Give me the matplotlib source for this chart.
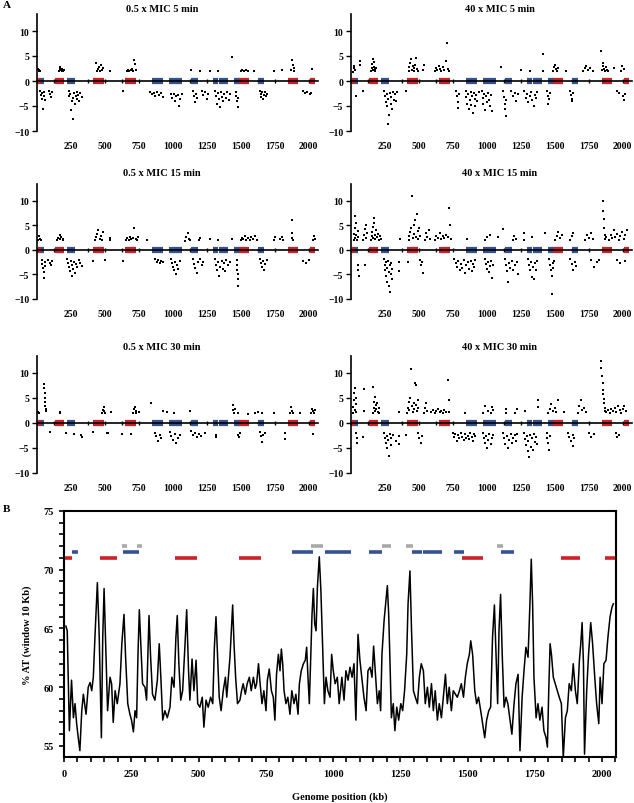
import numpy as np
import matplotlib
matplotlib.use('Agg')
import matplotlib.pyplot as plt
from matplotlib.ticker import MultipleLocator

plt.rcParams['font.family'] = ['Liberation Serif', 'DejaVu Serif']
plt.rcParams['font.weight'] = 'bold'

# --- panel A : fold change per gene along the genome (kb, log2 ratio) ---
titles = ['0.5 x MIC 5 min', '40 x MIC 5 min',
          '0.5 x MIC 15 min', '40 x MIC 15 min',
          '0.5 x MIC 30 min', '40 x MIC 30 min']

pts_05_5 = [
    (10, 2.5), (14, 2.1), (18, 2.3), (22, 2.0),
    (160, 2.0), (166, 2.4), (172, 2.8), (176, 2.2), (182, 2.0), (186, 2.5), (192, 2.1), (196, 2.3),
    (432, 3.6), (440, 2.0), (448, 2.4), (455, 2.9), (462, 2.1), (470, 3.2), (478, 2.2), (486, 2.6), (540, 2.0),
    (660, 2.1), (670, 2.3), (680, 2.0), (690, 2.2), (700, 2.4), (708, 2.0), (716, 4.2), (722, 3.4), (732, 2.2),
    (1130, 2.2), (1200, 2.0), (1273, 2.0), (1334, 2.1), (1437, 4.8),
    (1500, 2.0), (1512, 2.2), (1524, 2.0), (1538, 2.3), (1552, 2.0), (1596, 2.1),
    (1745, 2.0), (1800, 2.2), (1870, 2.2), (1876, 4.2), (1882, 3.2), (1888, 2.6), (1895, 2.1), (2027, 2.4),
    (25, -2.0), (30, -2.8), (35, -3.5), (40, -2.4), (45, -5.5), (50, -3.0), (55, -2.2), (60, -3.8),
    (85, -2.0), (92, -2.6), (100, -3.1), (108, -2.2),
    (232, -2.0), (238, -3.0), (244, -2.6), (250, -5.8), (256, -4.0), (262, -3.4), (268, -7.5), (274, -2.4),
    (280, -4.5), (286, -3.0), (292, -2.2), (298, -3.6), (304, -2.8), (312, -4.0), (320, -2.4), (330, -3.2),
    (636, -2.0),
    (835, -2.1), (848, -2.6), (860, -2.4), (872, -3.0), (884, -2.2), (896, -2.7), (910, -2.4), (928, -3.1),
    (985, -2.6), (995, -3.4), (1005, -2.5), (1015, -4.0), (1025, -3.0), (1035, -2.7), (1045, -5.0), (1055, -3.6), (1064, -2.5),
    (1150, -1.9), (1155, -3.0), (1160, -4.2), (1168, -2.5), (1175, -3.4),
    (1212, -1.9), (1225, -2.8), (1238, -2.2), (1250, -3.5), (1260, -2.6),
    (1310, -1.9), (1316, -3.0), (1322, -4.5), (1330, -2.4), (1338, -3.6), (1346, -5.1), (1354, -2.2), (1362, -3.2),
    (1370, -4.0), (1378, -2.6), (1388, -3.4), (1398, -2.1), (1410, -3.8), (1420, -2.5),
    (1464, -2.2), (1468, -3.0), (1472, -4.0), (1476, -5.2), (1481, -3.4),
    (1640, -1.9), (1646, -2.6), (1652, -3.2), (1658, -2.2), (1664, -3.5), (1670, -2.8), (1676, -2.1), (1682, -3.0), (1690, -2.5),
    (1960, -2.0), (1975, -2.4), (1990, -2.2), (2008, -2.6), (2020, -2.3),
]

pts_40_5 = [
    (16, 1.8), (20, 2.6), (24, 3.0), (28, 2.2), (64, 3.3), (66, 4.0),
    (148, 2.0), (152, 2.6), (156, 3.4), (160, 4.5), (164, 2.2), (168, 2.9), (172, 3.8), (176, 2.4), (180, 2.0), (184, 2.7),
    (424, 2.0), (430, 2.8), (436, 3.6), (442, 4.5), (448, 2.3), (454, 3.0), (460, 2.1), (466, 2.6), (472, 3.3),
    (478, 4.7), (486, 2.4), (494, 2.0), (532, 2.2), (534, 3.3),
    (616, 2.0), (626, 2.6), (636, 2.2), (646, 3.0), (656, 2.4), (666, 2.1), (676, 2.8), (686, 2.3), (696, 4.0),
    (704, 7.7), (712, 2.5), (722, 2.1),
    (1103, 2.8), (1251, 2.2), (1316, 2.1), (1412, 5.4), (1410, 2.0),
    (1486, 2.0), (1494, 2.8), (1502, 3.3), (1510, 2.4), (1518, 2.1), (1527, 2.6), (1582, 2.0),
    (1707, 2.0), (1720, 2.6), (1732, 3.0), (1745, 2.2), (1760, 2.7), (1779, 2.1),
    (1839, 6.0), (1845, 2.2), (1851, 3.0), (1857, 3.6), (1863, 2.5), (1870, 2.0), (1877, 2.8), (1885, 2.3),
    (1893, 2.0), (1935, 2.7), (1990, 2.0), (1998, 3.0), (2007, 2.4),
    (40, -3.0), (88, -1.9),
    (244, -2.0), (250, -3.0), (256, -4.2), (262, -2.6), (268, -5.0), (274, -3.6), (280, -6.7), (286, -2.4),
    (292, -4.5), (298, -3.2), (304, -5.6), (310, -2.2), (318, -3.8), (326, -2.6), (334, -4.0), (340, -2.1), (275, -8.5),
    (407, -2.0),
    (772, -2.0), (778, -3.0), (784, -4.2), (790, -5.3), (796, -2.6),
    (844, -2.0), (850, -3.2), (856, -4.5), (862, -2.6), (868, -5.5), (874, -3.8), (880, -2.2), (886, -4.8),
    (892, -3.0), (898, -6.3), (904, -2.4), (910, -3.6), (916, -5.0), (922, -2.8), (930, -4.0), (940, -2.2),
    (963, -2.0), (969, -3.4), (975, -4.6), (981, -2.6), (987, -5.8), (993, -3.0), (1000, -4.2), (1008, -2.3),
    (1016, -3.7), (1024, -5.0), (1030, -2.8), (1035, -6.0),
    (1120, -2.0), (1125, -3.2), (1130, -4.5), (1135, -5.6), (1140, -7.0), (1144, -3.8),
    (1180, -2.0), (1192, -3.0), (1204, -2.4), (1216, -4.0), (1228, -2.6),
    (1275, -2.0), (1285, -3.4), (1295, -2.6), (1305, -4.2), (1315, -3.0), (1325, -2.2), (1335, -3.8),
    (1345, -5.0), (1355, -2.8), (1365, -3.4), (1371, -2.2),
    (1443, -2.0), (1448, -3.0), (1453, -4.6), (1458, -3.6), (1462, -2.4),
    (1610, -2.0), (1618, -2.8), (1625, -3.5), (1630, -4.0), (1635, -2.4),
    (1959, -1.9), (1975, -2.4), (2005, -3.0), (2012, -3.7), (2019, -2.5),
]

pts_05_15 = [
    (11, 2.0), (15, 2.8), (20, 2.3), (28, 2.0),
    (150, 2.0), (158, 2.5), (166, 3.0), (172, 2.2), (180, 2.6), (188, 2.0), (195, 2.3),
    (427, 2.0), (436, 2.6), (444, 3.2), (452, 4.0), (460, 2.3), (468, 2.9), (476, 2.1), (488, 3.6), (538, 2.5), (540, 2.0),
    (655, 2.0), (665, 2.4), (675, 2.1), (685, 2.7), (695, 2.2), (705, 2.5), (716, 4.5), (725, 2.3), (735, 2.0), (746, 2.6),
    (807, 2.0),
    (1089, 1.9), (1100, 2.6), (1108, 3.5), (1115, 2.2), (1126, 2.0), (1194, 2.0), (1196, 2.5), (1273, 2.3),
    (1334, 2.0), (1437, 2.3),
    (1498, 2.0), (1508, 2.5), (1518, 2.2), (1528, 2.8), (1540, 2.1), (1552, 2.4), (1565, 2.0), (1578, 2.6),
    (1590, 2.2), (1604, 2.8), (1616, 2.0),
    (1743, 2.0), (1750, 2.6), (1790, 2.2), (1800, 2.7), (1812, 2.0),
    (1873, 6.0), (1876, 3.5), (1879, 2.5), (1883, 2.0),
    (2032, 2.0), (2038, 2.8), (2044, 2.3),
    (35, -2.0), (40, -2.8), (45, -3.6), (48, -4.6), (52, -5.7), (56, -2.4), (60, -3.2),
    (84, -2.0), (92, -2.6), (100, -3.0), (108, -2.2),
    (219, -1.8), (226, -2.6), (233, -3.4), (240, -4.4), (247, -2.2), (254, -5.3), (261, -3.0), (268, -3.8),
    (275, -2.4), (282, -4.8), (290, -2.8), (298, -3.4), (306, -2.0), (318, -2.6), (330, -3.2),
    (415, -2.3), (501, -2.1), (636, -2.3),
    (868, -1.8), (880, -2.4), (892, -2.0), (904, -2.7), (916, -2.2), (930, -2.5),
    (984, -1.8), (992, -2.6), (1000, -3.4), (1008, -4.2), (1016, -2.4), (1024, -5.0), (1032, -3.0), (1040, -3.8), (1052, -2.2),
    (1150, -1.8), (1158, -2.8), (1166, -3.6), (1174, -4.7), (1182, -2.4), (1200, -1.9), (1212, -3.0), (1224, -2.4),
    (1310, -1.8), (1318, -3.0), (1326, -4.2), (1334, -2.4), (1342, -5.3), (1350, -3.4), (1358, -2.2), (1366, -3.8),
    (1374, -2.6), (1384, -4.4), (1394, -2.0), (1406, -3.0), (1420, -2.4),
    (1469, -2.0), (1472, -3.0), (1474, -4.0), (1476, -5.0), (1478, -6.0), (1481, -7.3),
    (1640, -1.8), (1648, -2.6), (1656, -3.4), (1664, -2.2), (1672, -4.0), (1680, -2.8), (1690, -2.0),
    (1960, -2.2), (1980, -2.6), (2000, -2.0),
]

pts_40_15 = [
    (21, 2.0), (24, 3.2), (27, 4.5), (30, 6.8), (33, 2.4), (36, 5.5), (40, 3.0), (44, 2.0), (48, 3.8), (52, 2.6),
    (88, 2.0), (94, 3.0), (100, 4.2), (108, 5.0), (114, 2.4), (120, 3.4),
    (148, 2.0), (152, 2.8), (156, 3.6), (160, 4.6), (164, 2.4), (168, 5.4), (172, 6.5), (176, 3.0), (180, 2.2),
    (186, 4.0), (192, 2.6), (198, 3.3), (204, 2.0), (212, 2.8), (220, 2.2),
    (359, 2.2),
    (424, 2.0), (430, 2.8), (436, 3.6), (442, 4.5), (448, 11.0), (454, 2.4), (460, 5.0), (466, 3.2), (472, 6.0),
    (478, 2.6), (484, 7.3), (490, 3.8), (496, 2.2), (502, 4.4), (508, 2.8),
    (544, 2.0), (552, 3.4), (562, 2.6), (572, 4.0), (580, 2.2),
    (616, 2.0), (628, 2.8), (640, 2.4), (652, 3.4), (664, 2.2), (676, 2.9), (688, 2.4), (700, 3.0), (712, 2.6),
    (722, 8.6), (730, 5.0), (736, 2.2),
    (855, 2.2), (987, 2.0), (1000, 2.6), (1023, 3.0), (1083, 2.6), (1122, 4.2),
    (1191, 2.0), (1203, 2.8), (1215, 2.3), (1270, 2.0), (1275, 3.5), (1335, 2.6), (1426, 3.5),
    (1503, 2.0), (1515, 2.8), (1527, 3.7), (1539, 2.4), (1551, 3.0), (1611, 2.0), (1623, 2.8), (1635, 3.4),
    (1719, 2.0), (1735, 3.0), (1750, 2.4), (1765, 3.5), (1779, 2.2),
    (1851, 9.9), (1855, 8.0), (1859, 6.3), (1863, 4.4), (1867, 3.0), (1871, 2.2), (1875, 2.6),
    (1899, 2.0), (1910, 3.0), (1922, 2.4), (1934, 4.0), (1946, 2.6), (1958, 3.3), (1970, 2.0), (1982, 2.8),
    (1994, 3.6), (2006, 2.2), (2018, 3.0), (2031, 4.0),
    (52, -3.0), (54, -4.2), (56, -5.4), (100, -3.0),
    (244, -1.8), (248, -3.0), (252, -4.2), (256, -2.4), (260, -5.3), (264, -3.6), (268, -6.5), (272, -2.2),
    (276, -4.6), (280, -7.4), (284, -3.0), (288, -8.5), (292, -5.0), (296, -2.6), (300, -3.8), (304, -6.0),
    (352, -2.4), (352, -4.4), (417, -2.4), (508, -2.0), (515, -3.0), (524, -2.4), (532, -4.8),
    (760, -1.8), (770, -2.6), (780, -3.4), (790, -2.2), (800, -4.0), (810, -2.8), (820, -3.6), (830, -2.0),
    (840, -4.8), (850, -3.0), (860, -2.4), (870, -3.8), (880, -2.2), (890, -4.4), (900, -2.8), (908, -3.4), (916, -2.0),
    (987, -1.8), (994, -2.8), (1001, -3.8), (1008, -2.4), (1015, -4.6), (1022, -3.2), (1030, -2.2), (1038, -5.8), (1047, -3.0),
    (1131, -1.8), (1140, -3.0), (1148, -4.4), (1156, -6.5), (1164, -2.6), (1172, -3.6), (1182, -2.2), (1194, -4.0),
    (1206, -3.0), (1218, -2.4), (1227, -5.0),
    (1299, -1.8), (1307, -3.0), (1315, -4.2), (1323, -2.4), (1331, -5.6), (1339, -3.4), (1347, -6.0), (1355, -2.6),
    (1363, -4.0), (1371, -2.2),
    (1455, -1.8), (1462, -3.0), (1469, -4.2), (1476, -5.4), (1483, -2.6), (1490, -3.6), (1496, -2.2), (1478, -9.0),
    (1611, -1.8), (1623, -2.8), (1635, -4.0), (1647, -2.4), (1659, -3.2),
    (1767, -2.0), (1790, -3.4), (1810, -2.4), (1827, -2.0),
    (1959, -2.0), (1980, -2.7), (2019, -2.3),
]

pts_05_30 = [
    (10, 2.2), (14, 2.0),
    (52, 7.8), (54, 7.0), (56, 6.0), (58, 5.0), (60, 4.2), (62, 3.4), (64, 2.8), (66, 2.4),
    (167, 2.2), (170, 2.0),
    (478, 2.0), (484, 2.6), (490, 3.2), (496, 2.4), (503, 2.0), (547, 2.2),
    (707, 2.0), (714, 2.8), (720, 3.2), (726, 2.4), (732, 2.0), (752, 2.2),
    (837, 4.0), (929, 2.5), (954, 2.2), (1010, 2.0), (1125, 2.5),
    (1439, 3.7), (1445, 2.6), (1451, 2.0), (1457, 2.8), (1481, 2.0), (1550, 1.9), (1604, 2.0), (1628, 2.2),
    (1653, 2.0), (1746, 2.0),
    (1861, 2.0), (1868, 3.2), (1875, 2.4), (1886, 2.0), (1939, 2.0),
    (2015, 2.0), (2022, 2.8), (2030, 2.4), (2038, 2.0), (2045, 2.6),
    (94, -1.8), (217, -2.0), (273, -2.1), (327, -2.4), (330, -2.8), (413, -1.8), (512, -2.0), (524, -2.0),
    (622, -2.1), (694, -2.2),
    (866, -2.0), (878, -2.6), (890, -3.5), (902, -2.4), (915, -3.0),
    (976, -1.8), (988, -2.6), (1000, -3.4), (1012, -2.2), (1024, -4.0), (1036, -3.0), (1049, -2.4),
    (1135, -1.6), (1150, -2.4), (1165, -2.0), (1180, -2.8), (1195, -2.2), (1210, -2.6), (1233, -2.0),
    (1319, -2.3), (1321, -2.8), (1481, -2.3), (1493, -2.0), (1488, -2.8),
    (1640, -1.8), (1650, -2.6), (1658, -3.8), (1666, -2.4), (1677, -2.0),
    (1822, -2.0), (1824, -3.1), (2032, -2.2),
]

pts_40_30 = [
    (15, 2.0), (18, 3.2), (22, 4.6), (25, 6.0), (28, 7.0), (31, 2.6), (34, 3.8), (37, 5.0), (40, 2.2),
    (95, 6.8), (95, 2.4),
    (160, 7.3), (163, 2.0), (167, 3.0), (171, 4.2), (175, 5.2), (179, 2.4), (183, 3.6), (187, 2.8), (192, 4.0),
    (198, 2.2), (204, 3.0), (208, 2.0),
    (352, 2.2),
    (412, 2.0), (418, 3.0), (424, 4.2), (430, 2.6), (436, 5.0), (442, 10.8), (448, 3.4), (454, 2.2), (460, 4.0),
    (466, 2.8), (472, 8.0), (476, 7.7), (480, 3.6), (486, 2.4), (490, 4.6), (496, 3.0),
    (539, 2.0), (545, 3.0), (551, 4.0), (556, 2.4),
    (592, 2.2), (604, 2.6), (616, 2.0), (628, 2.4), (640, 2.8), (652, 2.2), (664, 2.5), (676, 2.0), (688, 2.7),
    (700, 2.3), (712, 8.7), (718, 4.6), (724, 2.2),
    (840, 2.0), (971, 2.0), (985, 3.5), (1007, 2.4), (1031, 2.0), (1037, 3.2), (1043, 2.6), (1139, 2.0), (1139, 2.8),
    (1210, 2.0), (1222, 2.8), (1283, 2.5), (1374, 3.2), (1374, 4.6),
    (1451, 2.0), (1463, 2.8), (1475, 3.8), (1487, 2.4), (1499, 3.0), (1511, 2.2), (1522, 4.6), (1571, 2.2),
    (1667, 2.0), (1679, 3.4), (1691, 4.6), (1703, 2.6), (1715, 3.0), (1727, 2.2),
    (1839, 12.4), (1843, 11.0), (1847, 9.5), (1851, 8.0), (1855, 6.6), (1858, 5.8), (1861, 4.8), (1864, 4.0),
    (1867, 3.0), (1870, 2.5),
    (1880, 2.2), (1892, 2.6), (1904, 2.0), (1916, 2.8), (1928, 2.4), (1940, 3.0), (1952, 2.2), (1964, 3.5),
    (1978, 2.6), (1990, 2.0), (2000, 2.8), (2012, 3.5), (2024, 2.4),
    (40, -2.0), (42, -3.0), (44, -4.0), (88, -2.8),
    (244, -2.0), (250, -3.0), (256, -4.0), (262, -2.6), (268, -5.0), (274, -3.4), (280, -6.5), (286, -2.2),
    (292, -4.4), (298, -3.0), (310, -2.4), (330, -3.6), (352, -2.6), (352, -4.2),
    (405, -2.4), (496, -2.0), (504, -3.0), (512, -4.0), (520, -2.6),
    (748, -2.0), (758, -2.8), (768, -2.2), (778, -3.5), (788, -2.4), (798, -3.0), (808, -2.0), (818, -2.8),
    (828, -3.4), (838, -2.2), (848, -3.0), (858, -2.5), (868, -3.2), (878, -2.0), (888, -2.8), (898, -3.5),
    (908, -2.2), (916, -2.6),
    (971, -2.0), (979, -3.0), (987, -4.0), (995, -2.6), (1003, -5.0), (1011, -3.4), (1019, -2.2), (1027, -4.2),
    (1035, -3.0), (1043, -2.4),
    (1115, -2.0), (1125, -3.0), (1135, -4.2), (1145, -2.6), (1155, -5.0), (1165, -3.4), (1175, -2.2), (1185, -4.0),
    (1195, -3.0), (1205, -2.4), (1215, -3.6), (1223, -2.2),
    (1271, -2.0), (1278, -3.2), (1285, -4.4), (1292, -2.6), (1299, -5.6), (1306, -3.6), (1313, -6.8), (1320, -2.4),
    (1327, -4.8), (1334, -3.0), (1341, -5.4), (1348, -2.2), (1355, -3.8), (1362, -2.8), (1367, -4.2),
    (1439, -2.0), (1445, -3.0), (1451, -4.0), (1457, -5.3), (1463, -2.6),
    (1595, -2.0), (1607, -2.8), (1619, -3.5), (1631, -2.4), (1637, -4.5), (1643, -3.0),
    (1750, -2.0), (1768, -2.8), (1786, -2.2), (1947, -2.0), (1959, -2.7), (1971, -2.3),
]

# genomic regions (start, end) in kb
red_regions = [(4, 28), (134, 196), (412, 493), (650, 731), (1481, 1559), (1846, 1918), (2012, 2048)]
blue_regions = [(28, 53), (220, 280), (849, 927), (971, 1067), (1135, 1183), (1292, 1332), (1336, 1405),
                (1450, 1486), (1623, 1674)]
gray_regions = [(214, 233), (272, 291), (917, 964), (1183, 1214), (1271, 1296), (1608, 1633)]

# --- panel B : %AT along the genome ---
pos_kb = [7, 12, 20, 28, 35, 41, 47, 53, 59, 66, 72, 82, 90, 97, 103, 109, 115, 124, 131, 139, 144, 149,
          156, 162, 171, 177, 183, 190, 198, 208, 215, 223, 229, 237, 245, 251, 258, 264, 270, 275, 280,
          286, 292, 301, 307, 316, 322, 329, 338, 347, 354, 360, 367, 375, 384, 394, 401, 409, 416, 421,
          427, 434, 441, 450, 456, 463, 468, 476, 483, 491, 497, 505, 514, 520, 528, 536, 545, 553, 559,
          565, 571, 577, 584, 592, 600, 605, 611, 617, 622, 627, 632, 638, 645, 654, 660, 666, 674, 681,
          689, 696, 704, 711, 716, 723, 729, 736, 743, 751, 756, 763, 771, 778, 784, 790, 797, 803, 808,
          813, 818, 825, 832, 840, 847, 855, 862, 870, 875, 882, 890, 897, 902, 907, 912, 917, 922, 927,
          932, 937, 942, 949, 955, 961, 968, 974, 981, 989, 995, 1001, 1008, 1016, 1023,
          1033, 1041, 1048, 1056, 1063, 1071, 1078, 1085, 1093, 1100, 1108, 1115, 1123, 1130, 1138, 1145,
          1151, 1157, 1165, 1172, 1177, 1182, 1190, 1197, 1202, 1207, 1212, 1217, 1224, 1230, 1237, 1244,
          1252, 1259, 1266, 1274, 1279, 1286, 1292, 1299, 1306, 1314, 1321, 1328, 1336, 1343, 1351, 1358,
          1366, 1373, 1380, 1388, 1395, 1403, 1410, 1418, 1425, 1432, 1440, 1447, 1455, 1462, 1470, 1477,
          1485, 1492, 1499, 1507, 1512, 1519, 1527, 1534, 1541, 1549, 1556, 1564, 1571, 1579, 1586, 1593,
          1600, 1606, 1612, 1617, 1623, 1629, 1636, 1643, 1650, 1658, 1665, 1673, 1680, 1688, 1695, 1703,
          1710, 1717, 1725, 1732, 1737, 1742, 1747, 1755, 1762, 1769, 1777, 1784, 1792, 1797, 1802, 1807,
          1812, 1819, 1826, 1834, 1841, 1849, 1856, 1864, 1871, 1878, 1886, 1893, 1901, 1908, 1916, 1921,
          1926, 1931, 1935, 1943, 1950, 1958, 1965, 1973, 1980, 1988, 1993, 2000, 2007, 2015, 2022, 2030,
          2037, 2042]
at_pct = [65.2, 64.8, 56.3, 60.6, 57.4, 58.6, 56.9, 55.7, 54.6, 58.0, 59.4, 57.7, 60.0, 60.4, 59.7, 60.85,
          64.25, 68.9, 64.25, 55.7, 64.25, 68.4, 62.8, 58.0, 60.85, 60.3, 57.0, 59.7, 58.6, 60.3, 63.7,
          66.2, 62.55, 58.6, 57.7, 57.2, 56.2, 58.0, 57.4, 62.8, 66.6, 63.4, 60.3, 60.0, 58.9, 66.1, 62.55,
          59.4, 58.9, 60.6, 63.7, 60.85, 57.2, 58.0, 57.4, 58.3, 60.85, 60.0, 64.25, 66.1, 62.0, 58.9, 59.7,
          63.7, 66.6, 61.4, 58.9, 62.4, 59.7, 62.3, 58.6, 58.3, 59.15, 56.6, 58.9, 58.3, 59.15, 58.6, 63.4,
          66.0, 62.55, 59.15, 58.0, 59.7, 60.85, 59.15, 60.85, 62.55, 64.8, 67.0, 63.7, 60.85, 58.6, 58.9,
          59.7, 60.3, 59.4, 60.3, 60.85, 59.7, 60.85, 59.9, 60.3, 62.0, 60.3, 58.6, 59.7, 58.0, 60.6, 61.55,
          59.7, 59.15, 57.2, 61.1, 62.8, 61.4, 63.25, 62.0, 59.7, 58.6, 59.15, 57.7, 59.7, 58.6, 59.4, 57.7,
          60.3, 61.4, 62.0, 62.3, 63.4, 60.85, 58.6, 62.3, 66.2, 68.4, 65.4, 64.8, 68.5, 71.1, 68.2, 63.7,
          58.6, 60.85, 59.7, 59.15, 62.8, 61.4, 60.3, 60.85, 58.6,
          60.85, 58.9, 61.4, 60.6, 61.7, 60.85, 62.0, 57.2, 64.5, 62.3, 60.6, 59.15, 58.0, 61.4, 61.7, 60.85,
          63.5, 61.4, 58.6, 59.7, 58.0, 62.8, 65.7, 67.4, 68.65, 66.2, 62.0, 57.4, 58.6, 56.3, 58.3, 57.2,
          58.6, 58.0, 59.7, 62.8, 67.1, 69.9, 64.8, 59.7, 59.15, 58.6, 60.85, 62.0, 61.4, 58.6, 60.0, 58.3,
          60.3, 58.0, 59.7, 57.2, 58.6, 57.4, 59.15, 61.1, 58.6, 60.0, 58.0, 59.7, 59.4, 59.15, 59.7, 60.3,
          59.15, 60.85, 62.0, 62.8, 63.95, 62.8, 59.7, 58.6, 59.15, 58.0, 56.9, 55.7, 57.2, 58.0, 58.3, 64.25,
          67.0, 62.8, 58.6, 64.8, 67.9, 62.8, 58.3, 59.15, 58.6, 57.2, 56.0, 58.6, 60.3, 61.1, 54.6, 59.15,
          61.4, 63.4, 62.55, 67.1, 70.9, 67.1, 60.85, 57.4, 58.6, 57.2, 58.3, 56.3, 55.7, 54.9, 59.7, 63.7,
          62.8, 60.85, 60.3, 59.7, 59.15, 58.6, 54.0, 57.4, 58.0, 60.3, 59.7, 62.0, 59.7, 58.6, 62.3, 63.7,
          65.5, 62.0, 54.3, 59.7, 62.8, 65.5, 63.7, 60.85, 58.6, 56.9, 60.85, 58.6, 62.0, 62.3, 64.25, 66.0,
          66.8, 67.1]

W, H = 634, 804


def rect(l, t, r, b):
    return [l / W, 1 - b / H, (r - l) / W, (b - t) / H]


fig = plt.figure(figsize=(W / 100, H / 100), dpi=100)

cols = [(37, 318), (351, 632)]
rows = [(15, 132), (185, 300), (357, 474)]
title_x = [162, 500]
title_y = [10, 174, 348]
panels = [pts_05_5, pts_40_5, pts_05_15, pts_40_15, pts_05_30, pts_40_30]

for i, pts in enumerate(panels):
    r, c = divmod(i, 2)
    ax = fig.add_axes(rect(cols[c][0], rows[r][0], cols[c][1], rows[r][1]))
    ax.set_xlim(0, 2068)
    ax.set_ylim(-10, 13.4)
    for s in ['right', 'bottom']:
        ax.spines[s].set_visible(False)
    ax.spines['top'].set_position(('data', 0))
    ax.spines['top'].set_linewidth(1.2)
    ax.spines['left'].set_linewidth(1.2)
    ax.set_xticks([250, 500, 750, 1000, 1250, 1500, 1750, 2000])
    ax.xaxis.set_minor_locator(MultipleLocator(125))
    ax.tick_params(axis='x', which='both', top=True, bottom=False, labeltop=False, labelbottom=True,
                   direction='inout', length=3, width=1, labelsize=7, pad=6)
    ax.set_yticks([-10, -5, 0, 5, 10])
    ax.tick_params(axis='y', direction='out', length=3.5, width=1, labelsize=7, pad=2)
    for lo, hi in red_regions:
        ax.hlines(0, lo, hi, colors='#cc2026', lw=4.5, zorder=2)
    for lo, hi in blue_regions:
        ax.hlines(0, lo, hi, colors='#34528f', lw=4.5, zorder=2)
    x, y = zip(*pts)
    ax.scatter(x, y, marker='s', s=3.5, color='black', linewidths=0, zorder=3, clip_on=False)
    fig.text(title_x[c] / W, 1 - title_y[r] / H, titles[i], ha='center', va='center', fontsize=7.5)

fig.text(3 / W, 1 - 6 / H, 'A', ha='left', va='center', fontsize=8)
fig.text(3 / W, 1 - 510 / H, 'B', ha='left', va='center', fontsize=8)

# panel B
axb = fig.add_axes(rect(64, 512, 616, 758))
axb.plot(pos_kb, at_pct, color='black', lw=1.1, zorder=3)
for lo, hi in red_regions:
    axb.hlines(71, lo, hi, colors='#cc2026', lw=2.6)
for lo, hi in blue_regions:
    axb.hlines(71.5, lo, hi, colors='#34528f', lw=2.6)
for lo, hi in gray_regions:
    axb.hlines(72, lo, hi, colors='#a9a9a9', lw=2.6)
axb.set_xlim(0, 2052)
axb.set_ylim(54.06, 75)
for s in axb.spines.values():
    s.set_linewidth(1.5)
axb.set_xticks([0, 250, 500, 750, 1000, 1250, 1500, 1750, 2000])
axb.xaxis.set_minor_locator(MultipleLocator(50))
axb.set_yticks([55, 60, 65, 70, 75])
axb.yaxis.set_minor_locator(MultipleLocator(1))
axb.tick_params(which='both', direction='out', length=3.5, width=1.2, labelsize=7.5)
axb.tick_params(axis='x', pad=5)
axb.tick_params(axis='y', pad=4)
fig.text(27 / W, 1 - 635 / H, '% AT (window 10 Kb)', rotation=90, ha='center', va='center', fontsize=7.5)
fig.text(340 / W, 1 - 797 / H, 'Genome position (kb)', ha='center', va='center', fontsize=7.5)

fig.savefig('out.png', dpi=100)
